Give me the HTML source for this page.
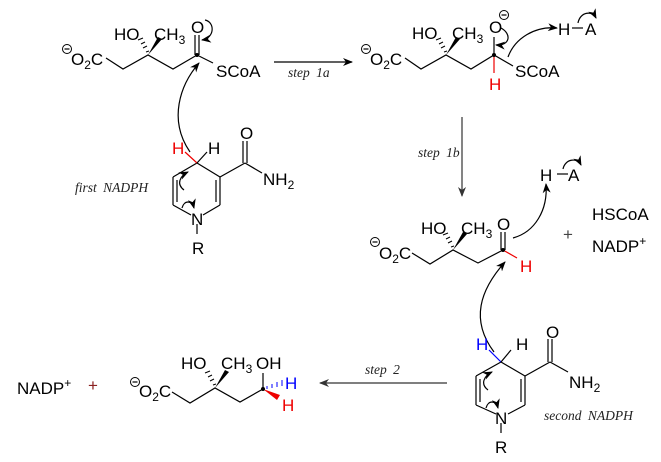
<!DOCTYPE html>
<html><head><meta charset="utf-8"><style>
html,body{margin:0;padding:0;background:#fff;}
svg{display:block;}
text{font-family:"Liberation Sans",sans-serif;font-size:17px;fill:#000;}
.it{font-family:"Liberation Serif",serif;font-style:italic;font-size:13.5px;fill:#222;word-spacing:3px;}
.s{font-size:12px;}
.r{fill:#e00;}
.b{fill:#00f;}
</style></head><body>
<svg width="661" height="462" viewBox="0 0 661 462" xmlns="http://www.w3.org/2000/svg">
<defs>
<marker id="ah" markerWidth="10" markerHeight="8" refX="9" refY="4" orient="auto" markerUnits="userSpaceOnUse"><path d="M0,0 L10,4 L0,8 L3,4Z" fill="#000"/></marker>
<marker id="ah2" markerWidth="10" markerHeight="8" refX="9" refY="4" orient="auto" markerUnits="userSpaceOnUse"><path d="M0,0 L10,4 L0,8 L3,4Z" fill="#333"/></marker>
<g id="neg"><circle cx="0" cy="0" r="4.5" fill="#fff" stroke="#000" stroke-width="1"/><line x1="-2.5" y1="0" x2="2.5" y2="0" stroke="#000" stroke-width="1.2"/></g>
</defs>
<g stroke="#000" stroke-width="1.2" fill="none">
<!-- molecule 1 -->
<polyline points="106,58 123,69 148,55 173,69 197,55 213,63"/>
<line x1="195" y1="55" x2="195" y2="35"/><line x1="199" y1="55" x2="199" y2="35"/>
<path d="M205,20 C215,22 215,38 202,40" marker-end="url(#ah)"/>
<path d="M190,152 C168,120 180,85 199,63" marker-end="url(#ah)"/>
<!-- NADPH 1 -->
<line x1="197" y1="163" x2="220" y2="177"/><line x1="220" y1="177" x2="220" y2="205"/><line x1="216" y1="180" x2="216" y2="202"/>
<line x1="220" y1="205" x2="203" y2="215"/><line x1="191" y1="215" x2="173" y2="205"/>
<line x1="173" y1="205" x2="173" y2="177"/><line x1="177" y1="202" x2="177" y2="180"/>
<line x1="173" y1="177" x2="197" y2="163"/>
<line x1="197" y1="163" x2="185" y2="152" stroke="#e00"/><line x1="197" y1="163" x2="207" y2="152"/>
<line x1="220" y1="177" x2="245" y2="163"/><line x1="243" y1="163" x2="243" y2="141"/><line x1="247" y1="163" x2="247" y2="141"/>
<line x1="245" y1="163" x2="262" y2="173"/>
<line x1="197" y1="224" x2="197" y2="234"/>
<path d="M184,190 C176,184 180,176 188,172" marker-end="url(#ah)"/>
<path d="M182,208 C184,200 192,200 194,208" marker-end="url(#ah)"/>
<!-- step 1a -->
<line x1="274" y1="62" x2="352" y2="62" marker-end="url(#ah)"/>
<!-- molecule 2 -->
<polyline points="405,58 421,69 446,55 471,69 494,55 513,66"/>
<line x1="494" y1="55" x2="494" y2="37"/>
<line x1="494" y1="55" x2="494" y2="73" stroke="#e00"/>
<path d="M501,28 C512,34 510,46 496,45" marker-end="url(#ah)"/>
<path d="M508,57 C515,38 535,26 557,28" marker-end="url(#ah)"/>
<line x1="572" y1="28" x2="583" y2="28"/>
<path d="M578,23 C580,12 592,10 596,18" marker-end="url(#ah)"/>
<!-- step 1b -->
<line x1="462" y1="117" x2="462" y2="196" stroke="#333" marker-end="url(#ah2)"/>
<!-- molecule 3 -->
<polyline points="412,253 430,264 453,250 478,263 503,250"/>
<line x1="501" y1="250" x2="501" y2="232"/><line x1="505" y1="250" x2="505" y2="232"/>
<line x1="503" y1="250" x2="517" y2="258" stroke="#e00"/>
<path d="M513,238 C535,232 548,210 546,184" marker-end="url(#ah)"/>
<line x1="557" y1="174" x2="568" y2="174"/>
<path d="M563,169 C565,159 577,157 581,165" marker-end="url(#ah)"/>
<!-- NADPH 2 -->
<line x1="501" y1="362" x2="525" y2="376"/><line x1="525" y1="376" x2="525" y2="405"/><line x1="521" y1="379" x2="521" y2="402"/>
<line x1="525" y1="405" x2="508" y2="414"/><line x1="496" y1="414" x2="476" y2="405"/>
<line x1="476" y1="405" x2="476" y2="376"/><line x1="480" y1="402" x2="480" y2="379"/>
<line x1="476" y1="376" x2="501" y2="362"/>
<line x1="501" y1="362" x2="489" y2="350" stroke="#00f"/><line x1="501" y1="362" x2="511" y2="350"/>
<line x1="525" y1="376" x2="550" y2="362"/><line x1="548" y1="362" x2="548" y2="339"/><line x1="552" y1="362" x2="552" y2="339"/>
<line x1="550" y1="362" x2="568" y2="372"/>
<line x1="501" y1="423" x2="501" y2="433"/>
<path d="M488,390 C480,384 484,376 492,372" marker-end="url(#ah)"/>
<path d="M486,408 C488,400 496,400 498,408" marker-end="url(#ah)"/>
<path d="M494,352 C470,320 480,290 505,262" marker-end="url(#ah)"/>
<!-- step 2 -->
<line x1="447" y1="383" x2="320" y2="383" stroke="#333" marker-end="url(#ah2)"/>
<!-- product -->
<polyline points="172,392 190,403 215,388 240,402 263,389"/>
<line x1="263" y1="389" x2="263" y2="373"/>
</g>
<!-- stereo bonds -->
<polygon points="148,55 158,37 162,39" fill="#000"/>
<g stroke="#000" stroke-width="1">
<line x1="146" y1="52" x2="149" y2="51"/><line x1="143" y1="48" x2="147" y2="46"/><line x1="141" y1="44" x2="145" y2="42"/><line x1="138" y1="40" x2="143" y2="38"/>
<line x1="444" y1="52" x2="447" y2="51"/><line x1="441" y1="48" x2="445" y2="46"/><line x1="439" y1="44" x2="443" y2="42"/><line x1="436" y1="40" x2="441" y2="38"/>
<line x1="451" y1="247" x2="454" y2="246"/><line x1="448" y1="243" x2="452" y2="241"/><line x1="446" y1="239" x2="450" y2="237"/><line x1="443" y1="235" x2="448" y2="233"/>
<line x1="213" y1="385" x2="216" y2="384"/><line x1="210" y1="381" x2="214" y2="379"/><line x1="208" y1="377" x2="212" y2="375"/><line x1="205" y1="373" x2="210" y2="371"/>
</g>
<polygon points="446,55 456,37 460,39" fill="#000"/>
<polygon points="453,250 463,232 467,234" fill="#000"/>
<polygon points="215,388 225,370 229,372" fill="#000"/>
<polygon points="263,389 280,395 277,400" fill="#e00"/>
<g stroke="#00f" stroke-width="1"><line x1="267" y1="386" x2="267" y2="389"/><line x1="272" y1="384" x2="272" y2="388"/><line x1="277" y1="382" x2="277" y2="387"/><line x1="282" y1="380" x2="282" y2="386"/></g>
<circle cx="197" cy="55" r="2" fill="#000"/><circle cx="494" cy="55" r="2" fill="#000"/><circle cx="503" cy="250" r="2" fill="#000"/><circle cx="263" cy="389" r="2" fill="#000"/>

<!-- text mol1 -->
<use href="#neg" x="67" y="49"/>
<text x="71" y="65">O<tspan class="s" dy="4">2</tspan><tspan dy="-4">C</tspan></text>
<text x="114" y="40">HO</text><text x="154" y="40">CH<tspan class="s" dy="4">3</tspan></text>
<text x="191" y="33">O</text>
<text x="216" y="77">SCoA</text>
<text x="172" y="154" class="r">H</text><text x="208" y="154">H</text>
<text x="240" y="139">O</text>
<text x="263" y="185">NH<tspan class="s" dy="4">2</tspan></text>
<text x="191" y="225">N</text><text x="192" y="254">R</text>
<text x="75" y="192" class="it">first NADPH</text>
<text x="288" y="77" class="it">step 1a</text>
<!-- mol2 -->
<use href="#neg" x="366" y="49"/>
<text x="370" y="65">O<tspan class="s" dy="4">2</tspan><tspan dy="-4">C</tspan></text>
<text x="412" y="39">HO</text><text x="452" y="39">CH<tspan class="s" dy="4">3</tspan></text>
<text x="489" y="33">O</text>
<use href="#neg" x="504" y="15"/>
<text x="515" y="77">SCoA</text>
<text x="489" y="90" class="r">H</text>
<text x="558" y="35">H</text><text x="585" y="35">A</text>
<text x="418" y="157" class="it">step 1b</text>
<!-- mol3 -->
<use href="#neg" x="375" y="242"/>
<text x="379" y="259">O<tspan class="s" dy="4">2</tspan><tspan dy="-4">C</tspan></text>
<text x="421" y="234">HO</text><text x="461" y="234">CH<tspan class="s" dy="4">3</tspan></text>
<text x="497" y="230">O</text>
<text x="520" y="272" class="r">H</text>
<text x="540" y="181">H</text><text x="568" y="181">A</text>
<text x="563" y="240" style="fill:#444">+</text>
<text x="592" y="220">HSCoA</text>
<text x="592" y="252">NADP<tspan class="s" dy="-7">+</tspan></text>
<!-- NADPH2 -->
<text x="476" y="350" class="b">H</text><text x="516" y="350">H</text>
<text x="546" y="338">O</text>
<text x="569" y="388">NH<tspan class="s" dy="4">2</tspan></text>
<text x="495" y="424">N</text><text x="495" y="453">R</text>
<text x="544" y="420" class="it">second NADPH</text>
<text x="365" y="374" class="it">step 2</text>
<!-- product -->
<text x="17" y="394">NADP<tspan class="s" dy="-7">+</tspan></text>
<text x="88" y="391" style="fill:#8b2020">+</text>
<use href="#neg" x="135" y="382"/>
<text x="139" y="397">O<tspan class="s" dy="4">2</tspan><tspan dy="-4">C</tspan></text>
<text x="181" y="369">HO</text><text x="221" y="369">CH<tspan class="s" dy="4">3</tspan></text>
<text x="256" y="369">OH</text>
<text x="285" y="389" class="b">H</text>
<text x="282" y="411" class="r">H</text>
</svg>
</body></html>
